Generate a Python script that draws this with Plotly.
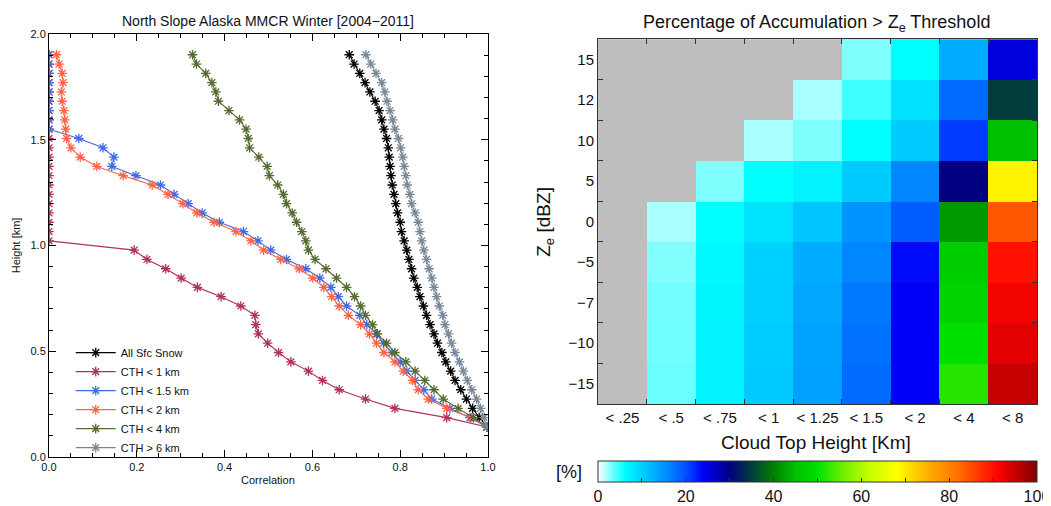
import plotly.graph_objects as go

# ---------------- Left panel data (correlation profiles) ----------------
heights_km = [0.142, 0.186, 0.230, 0.274, 0.318, 0.362, 0.406, 0.450, 0.494, 0.538,
              0.582, 0.626, 0.670, 0.714, 0.758, 0.802, 0.846, 0.890, 0.934, 0.978,
              1.022, 1.066, 1.110, 1.154, 1.198, 1.242, 1.286, 1.330, 1.374, 1.418,
              1.462, 1.506, 1.550, 1.594, 1.638, 1.682, 1.726, 1.770, 1.814, 1.858, 1.902]

corr_all = [0.997, 0.980, 0.965, 0.951, 0.938, 0.925, 0.915, 0.904, 0.895, 0.885,
            0.877, 0.868, 0.860, 0.853, 0.845, 0.839, 0.831, 0.826, 0.820, 0.815,
            0.809, 0.803, 0.800, 0.794, 0.790, 0.786, 0.782, 0.779, 0.777, 0.775,
            0.773, 0.769, 0.763, 0.758, 0.752, 0.743, 0.731, 0.720, 0.708, 0.695, 0.684]

corr_cth1 = [0.998, 0.906, 0.788, 0.721, 0.661, 0.623, 0.591, 0.551, 0.523, 0.498,
             0.477, 0.471, 0.469, 0.437, 0.392, 0.338, 0.301, 0.266, 0.223, 0.194,
             0.0, 0.0, 0.0, 0.0, 0.0, 0.0, 0.0, 0.0, 0.0, 0.0,
             0.0, 0.0, 0.0, 0.0, 0.0, 0.0, 0.0, 0.0, 0.0, 0.0, 0.0]

corr_cth15 = [0.998, 0.959, 0.913, 0.872, 0.854, 0.834, 0.815, 0.800, 0.781, 0.762,
              0.746, 0.724, 0.708, 0.678, 0.659, 0.642, 0.617, 0.585, 0.541, 0.505,
              0.476, 0.443, 0.388, 0.349, 0.317, 0.285, 0.254, 0.198, 0.143, 0.148,
              0.123, 0.068, 0.0, 0.0, 0.0, 0.0, 0.0, 0.0, 0.0, 0.0, 0.0]

corr_cth2 = [0.998, 0.963, 0.906, 0.864, 0.841, 0.828, 0.807, 0.788, 0.763, 0.746,
             0.730, 0.710, 0.682, 0.661, 0.644, 0.626, 0.601, 0.570, 0.528, 0.489,
             0.460, 0.426, 0.376, 0.337, 0.305, 0.271, 0.235, 0.169, 0.109, 0.071,
             0.050, 0.040, 0.038, 0.036, 0.034, 0.030, 0.028, 0.032, 0.030, 0.023, 0.017]

corr_cth4 = [0.998, 0.967, 0.932, 0.898, 0.877, 0.856, 0.834, 0.813, 0.788, 0.769,
             0.748, 0.737, 0.721, 0.710, 0.696, 0.678, 0.655, 0.631, 0.606, 0.591,
             0.585, 0.576, 0.564, 0.554, 0.541, 0.534, 0.521, 0.502, 0.497, 0.478,
             0.457, 0.454, 0.449, 0.434, 0.410, 0.386, 0.380, 0.371, 0.357, 0.336, 0.327]

corr_cth6 = [0.997, 0.991, 0.983, 0.974, 0.963, 0.953, 0.944, 0.935, 0.925, 0.917,
             0.910, 0.902, 0.897, 0.889, 0.883, 0.877, 0.872, 0.866, 0.860, 0.854,
             0.849, 0.845, 0.841, 0.834, 0.826, 0.822, 0.816, 0.813, 0.809, 0.806,
             0.801, 0.796, 0.788, 0.783, 0.777, 0.770, 0.765, 0.758, 0.745, 0.733, 0.722]

series_names = ["All Sfc Snow", "CTH &lt; 1 km", "CTH &lt; 1.5 km", "CTH &lt; 2 km",
                "CTH &lt; 4 km", "CTH &gt; 6 km"]
series_values = [corr_all, corr_cth1, corr_cth15, corr_cth2, corr_cth4, corr_cth6]
series_colors = ["#000000", "#B03060", "#4169E1", "#FF6347", "#556B2F", "#778899"]

# ---------------- Right panel data (heatmap) ----------------
cth_labels = ["< .25", "< .5", "< .75", "< 1", "< 1.25", "< 1.5", "< 2", "< 4", "< 8"]
ze_labels = ["\u221215", "\u221210", "\u22127", "\u22125", "0", "5", "10", "12", "15"]
pct_values = [
    [None, 3.5, 7.0, 10.5, 14.0, 18.0, 24.0, 52, 95],     # -15
    [None, 3.4, 7.0, 10.2, 13.8, 17.5, 24.0, 50, 93],     # -10
    [None, 3.3, 6.8, 10.0, 13.5, 17.0, 24.0, 48, 91.5],   # -7
    [None, 2.9, 6.5, 9.8, 13.0, 16.0, 23.5, 47, 90],      # -5
    [None, 2.0, 6.0, 8.3, 10.8, 15.0, 19.0, 42, 84],      # 0
    [None, None, 3.0, 6.0, 7.0, 10.5, 16.0, 30, 69],      # 5
    [None, None, None, 2.0, 3.0, 6.0, 10.5, 21, 45],      # 10
    [None, None, None, None, 2.0, 4.5, 8.5, 18, 35],      # 12
    [None, None, None, None, None, 3.0, 6.0, 13, 25.5],   # 15
]
colorbar_ticks = [0, 10, 20, 30, 40, 50, 60, 70, 80, 90, 100]
colorbar_ticktext = ["0", "", "20", "", "40", "", "60", "", "80", "", "100"]

colorscale = [
    [0.00, "#FFFFFF"], [0.06, "#00FFFF"], [0.15, "#0094FF"], [0.20, "#0050FF"],
    [0.24, "#0000F8"], [0.27, "#0000C0"], [0.30, "#000080"], [0.34, "#003048"],
    [0.40, "#008000"], [0.45, "#00C000"], [0.50, "#00E000"], [0.56, "#70F000"],
    [0.62, "#C8FF00"], [0.68, "#FFFF00"], [0.75, "#FFB000"], [0.82, "#FF7000"],
    [0.90, "#FF1000"], [0.92, "#F00000"], [1.00, "#800000"],
]

FONT = "Liberation Sans, Arial, Helvetica, sans-serif"

fig = go.Figure()

for name, vals, col in zip(series_names, series_values, series_colors):
    fig.add_trace(go.Scatter(
        x=vals, y=heights_km, name=name, mode="lines+markers",
        line=dict(color=col, width=1.1),
        marker=dict(symbol="asterisk-open", size=8, color=col, line=dict(color=col, width=1.3)),
        xaxis="x", yaxis="y", showlegend=True,
    ))

fig.add_trace(go.Heatmap(
    x=cth_labels, y=ze_labels, z=pct_values,
    colorscale=colorscale, zmin=0, zmax=100,
    xaxis="x2", yaxis="y2", showscale=True, hoverongaps=False,
    colorbar=dict(
        orientation="h", x=0.7778, xanchor="center", y=-0.0095, yanchor="top",
        len=439, lenmode="pixels", thickness=21, thicknessmode="pixels",
        xpad=0, ypad=0, outlinewidth=1, outlinecolor="#333333",
        tickvals=colorbar_ticks, ticktext=colorbar_ticktext,
        ticks="inside", ticklen=4, tickcolor="#333333",
        tickfont=dict(size=16, color="#111111", family=FONT),
    ),
))

# The page body adds an 8px offset, so the figure is 8px smaller than the window.
fig.update_layout(
    width=1043, height=498,
    margin=dict(l=41, r=14, t=26, b=49, autoexpand=False),
    paper_bgcolor="white", plot_bgcolor="white",
    font=dict(family=FONT, color="#111111"),
    showlegend=True,
    legend=dict(x=0.022, y=0.281, xanchor="left", yanchor="top",
                bgcolor="rgba(0,0,0,0)", font=dict(size=11, family=FONT, color="#111111"),
                itemwidth=40, tracegroupgap=0),
    xaxis=dict(domain=[0, 0.4443], range=[0, 1], anchor="y",
               tickvals=[0, 0.2, 0.4, 0.6, 0.8, 1.0], tickformat=".1f",
               ticks="inside", ticklen=7, tickcolor="#000", tickwidth=1,
               minor=dict(dtick=0.05, ticks="inside", ticklen=4, tickcolor="#000"),
               showline=True, linecolor="#000", linewidth=1, mirror="ticks",
               showgrid=False, zeroline=False, tickfont=dict(size=11)),
    yaxis=dict(domain=[0, 1], range=[0, 2], anchor="x",
               tickvals=[0, 0.5, 1.0, 1.5, 2.0], tickformat=".1f",
               ticks="inside", ticklen=7, tickcolor="#000", tickwidth=1,
               minor=dict(dtick=0.1, ticks="inside", ticklen=4, tickcolor="#000"),
               showline=True, linecolor="#000", linewidth=1, mirror="ticks",
               showgrid=False, zeroline=False, tickfont=dict(size=11)),
    xaxis2=dict(domain=[0.5557, 1.0], anchor="y2", type="category",
                tickson="boundaries", ticks="inside", ticklen=5, tickcolor="#333",
                tickangle=0,
                showline=True, linecolor="#333", linewidth=1, mirror="ticks",
                showgrid=False, zeroline=False, tickfont=dict(size=15)),
    yaxis2=dict(domain=[0.1253, 0.9875], anchor="x2", type="category",
                tickson="boundaries", ticks="inside", ticklen=5, tickcolor="#333",
                showline=True, linecolor="#333", linewidth=1, mirror="ticks",
                showgrid=False, zeroline=False, tickfont=dict(size=15)),
    annotations=[
        dict(text="North Slope Alaska MMCR Winter [2004\u22122011]", x=0.2217, y=1.031,
             xref="paper", yref="paper", showarrow=False, font=dict(size=14),
             xanchor="center", yanchor="middle"),
        dict(text="Correlation", x=0.2217, y=-0.0544, xref="paper", yref="paper",
             showarrow=False, font=dict(size=11), xanchor="center", yanchor="middle"),
        dict(text="Height [km]", x=-0.0337, y=0.5, xref="paper", yref="paper",
             showarrow=False, font=dict(size=11), textangle=-90,
             xanchor="center", yanchor="middle"),
        dict(text="Percentage of Accumulation &gt; Z<sub>e</sub> Threshold", x=0.777, y=1.026,
             xref="paper", yref="paper", showarrow=False, font=dict(size=18),
             xanchor="center", yanchor="middle"),
        dict(text="Cloud Top Height [Km]", x=0.7765, y=0.034, xref="paper", yref="paper",
             showarrow=False, font=dict(size=19), xanchor="center", yanchor="middle"),
        dict(text="Z<sub>e</sub> [dBZ]", x=0.502, y=0.556, xref="paper", yref="paper",
             showarrow=False, font=dict(size=19), textangle=-90,
             xanchor="center", yanchor="middle"),
        dict(text="[%]", x=0.526, y=-0.035, xref="paper", yref="paper",
             showarrow=False, font=dict(size=18), xanchor="center", yanchor="middle"),
    ],
)
# grey background for the heatmap region (missing cells)
fig.add_shape(type="rect", xref="x2 domain", yref="y2 domain", x0=0, x1=1, y0=0, y1=1,
              fillcolor="#BEBEBE", line=dict(width=0), layer="below")

fig.write_html("out.html")
